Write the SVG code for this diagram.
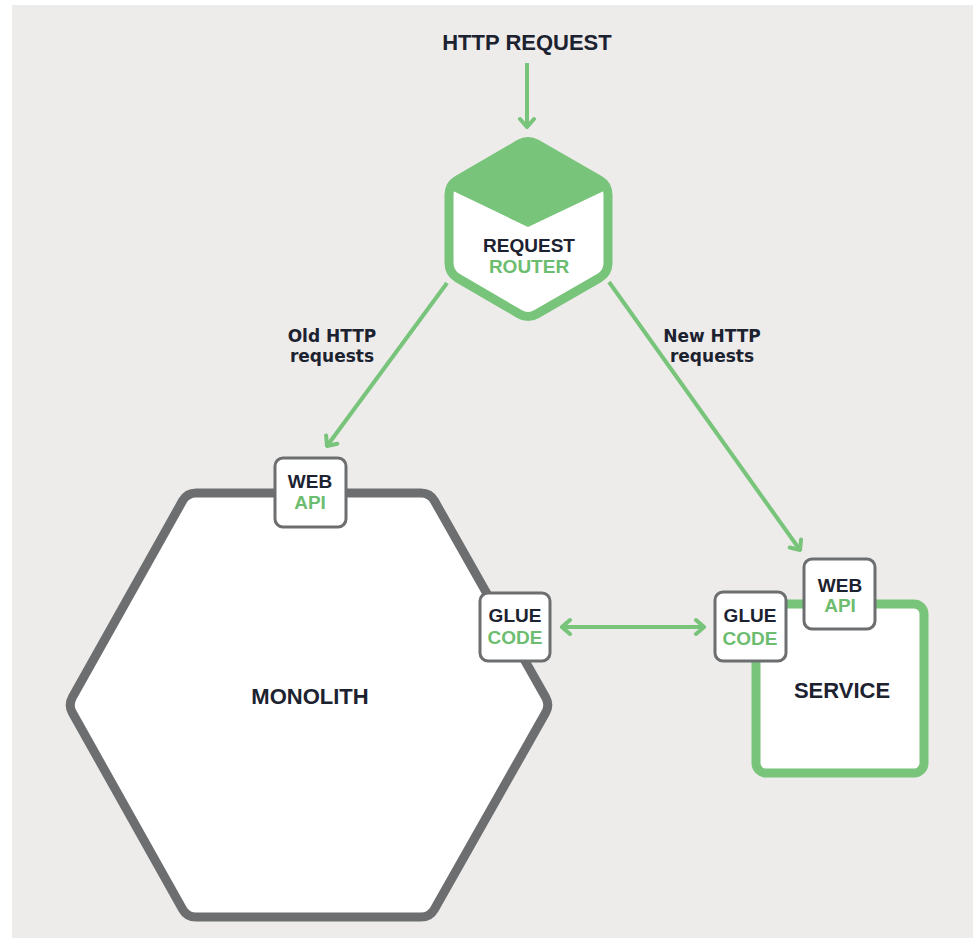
<svg xmlns="http://www.w3.org/2000/svg" width="973" height="938" viewBox="0 0 973 938">
<style>
.bg{fill:#edecea}
.big{font-family:"Liberation Sans",Arial,sans-serif;font-weight:bold;font-size:22px;fill:#1c2230;text-anchor:middle}
.lbl{font-family:"Liberation Sans",Arial,sans-serif;font-weight:bold;font-size:19px;text-anchor:middle}
.dark{fill:#1c2230}
.gt{fill:#6cbd6f}
.edge{font-family:"DejaVu Sans",Verdana,sans-serif;font-weight:bold;font-size:17px;fill:#1c2230;text-anchor:middle}
.box{fill:#fff;stroke:#6d6e70;stroke-width:3}
.conn{fill:none;stroke:#78c47a;stroke-width:4}
</style>
<defs>
<marker id="arr" viewBox="-12 -10 14 20" refX="0" refY="0" markerWidth="14" markerHeight="20" markerUnits="userSpaceOnUse" orient="auto-start-reverse">
<path d="M-8,-7 L0,0 L-8,7" fill="none" stroke="#78c47a" stroke-width="4" stroke-linecap="round" stroke-linejoin="miter"/>
</marker>
</defs>
<rect width="973" height="938" fill="#fff"/>
<rect class="bg" x="12" y="5" width="961" height="933"/>

<g id="http-request">
<text class="big" x="527" y="50">HTTP REQUEST</text>
</g>

<g id="connectors">
<path class="conn" d="M527,63 L527,127" marker-end="url(#arr)"/>
<path class="conn" d="M447,283 L327,446" marker-end="url(#arr)"/>
<path class="conn" d="M609,282 L800,550" marker-end="url(#arr)"/>
<path class="conn" d="M562,627 L704,627" marker-start="url(#arr)" marker-end="url(#arr)"/>
<text class="edge" x="332" y="342">Old HTTP</text>
<text class="edge" x="332" y="362">requests</text>
<text class="edge" x="712" y="342">New HTTP</text>
<text class="edge" x="712" y="362">requests</text>
</g>

<g id="request-router">
<path d="M536.7,144 L599.3,180 Q608,185 608,195 L608,263 Q608,273 599.3,278 L536.7,314 Q528,319 519.4,314 L457.6,278 Q449,273 449,263 L449,195 Q449,185 457.6,180 L519.4,144 Q528,139 536.7,144 Z" fill="#fff"/>
<path d="M536.7,144 L599.3,180 Q608,185 608,195 L608,189 L528,227 L449,189 L449,195 Q449,185 457.6,180 L519.4,144 Q528,139 536.7,144 Z" fill="#78c47a"/>
<path d="M536.7,144 L599.3,180 Q608,185 608,195 L608,263 Q608,273 599.3,278 L536.7,314 Q528,319 519.4,314 L457.6,278 Q449,273 449,263 L449,195 Q449,185 457.6,180 L519.4,144 Q528,139 536.7,144 Z" fill="none" stroke="#78c47a" stroke-width="9"/>
<text class="lbl dark" x="529" y="252">REQUEST</text>
<text class="lbl gt" x="529" y="273">ROUTER</text>
</g>

<g id="monolith">
<path d="M196,493 L421,493 Q430,493 434.4,500.8 L545.6,697.2 Q550,705 545.6,712.8 L434.4,909.2 Q430,917 421,917 L196,917 Q187,917 182.6,909.2 L72.4,712.8 Q68,705 72.4,697.2 L182.6,500.8 Q187,493 196,493 Z" fill="#fff" stroke="#6d6e70" stroke-width="9"/>
<text class="big" x="310" y="704">MONOLITH</text>
</g>

<g id="monolith-web-api">
<rect class="box" x="275" y="458" width="71" height="69" rx="8"/>
<text class="lbl dark" x="310" y="488">WEB</text>
<text class="lbl gt" x="310" y="509">API</text>
</g>

<g id="monolith-glue-code">
<rect class="box" x="480" y="593" width="70" height="68" rx="8"/>
<text class="lbl dark" x="515" y="622">GLUE</text>
<text class="lbl gt" x="515" y="644">CODE</text>
</g>

<g id="service">
<rect x="756" y="604" width="168" height="169" rx="10" fill="#fff" stroke="#78c47a" stroke-width="9"/>
<text class="big" x="842" y="698">SERVICE</text>
</g>

<g id="service-web-api">
<rect class="box" x="804" y="559" width="71" height="70" rx="8"/>
<text class="lbl dark" x="840" y="592">WEB</text>
<text class="lbl gt" x="840" y="612">API</text>
</g>

<g id="service-glue-code">
<rect class="box" x="715" y="592" width="71" height="69" rx="8"/>
<text class="lbl dark" x="750" y="622">GLUE</text>
<text class="lbl gt" x="750" y="645">CODE</text>
</g>
</svg>
